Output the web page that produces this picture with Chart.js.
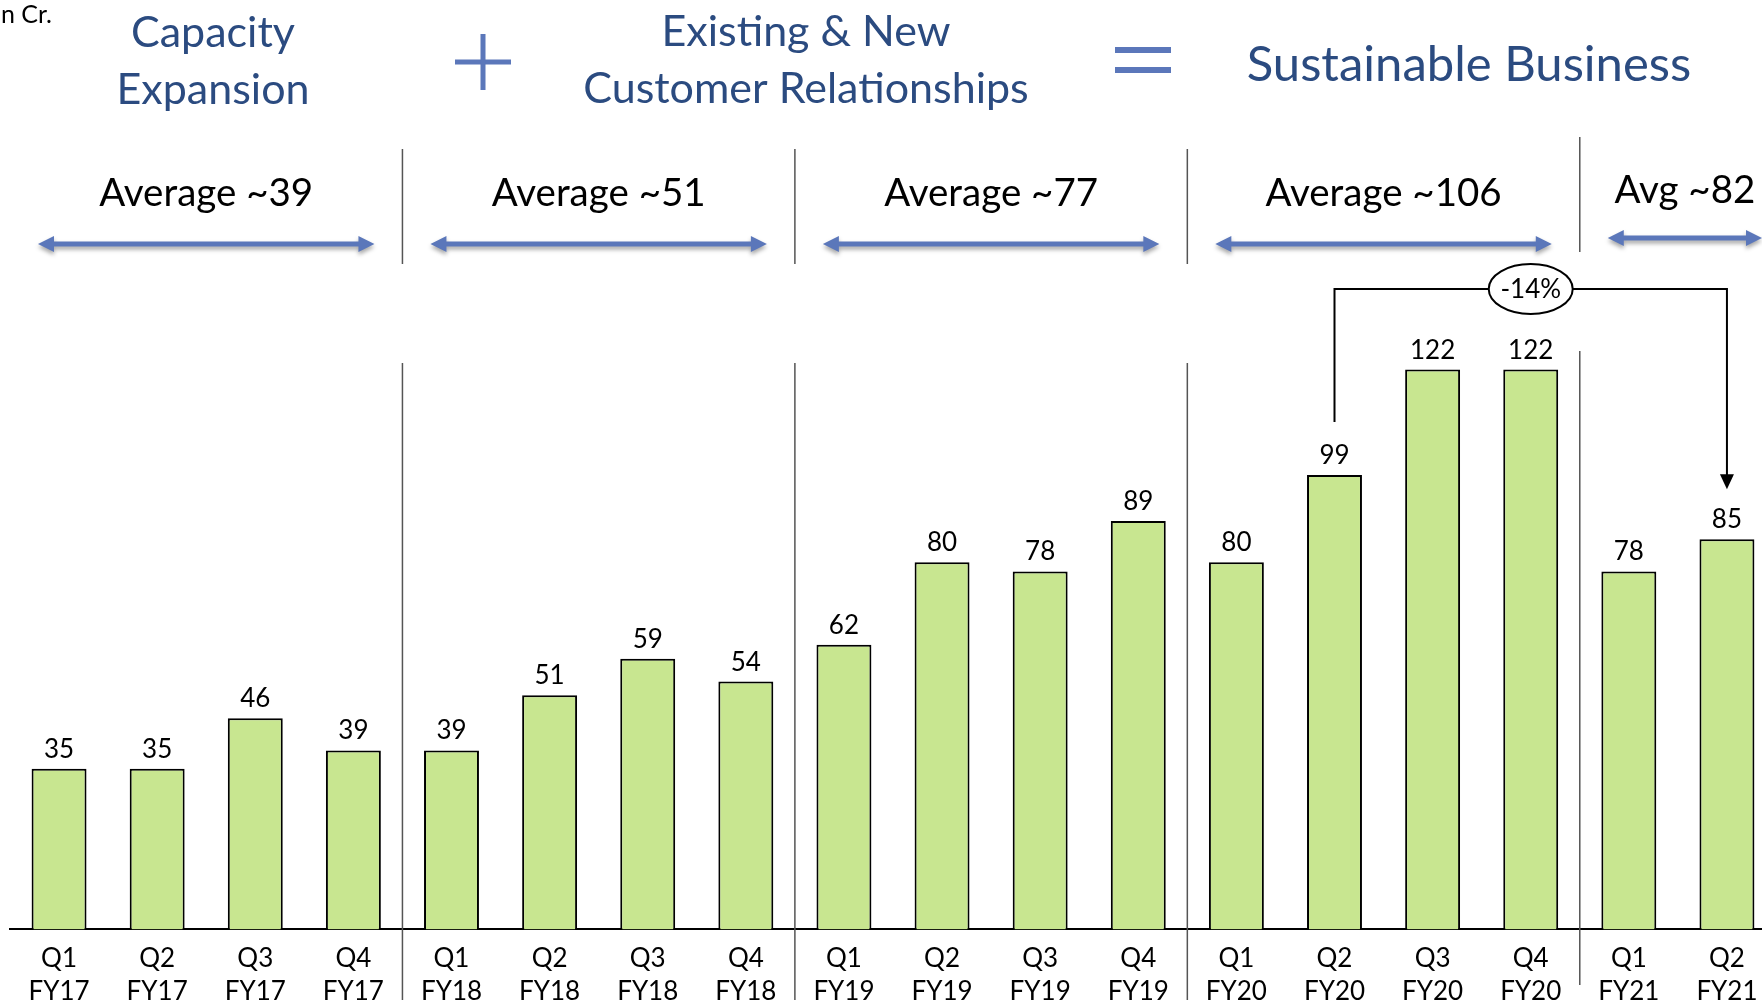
<!doctype html>
<html lang="en">
<head>
<meta charset="UTF-8" />
<title>Quarterly Revenue</title>
<style>
  html, body { margin: 0; padding: 0; overflow: hidden; background: #fff; }
  #chart { display: block; }
</style>
</head>
<body>
<canvas id="chart" width="1790" height="1022"></canvas>
<script src="https://cdn.jsdelivr.net/npm/chart.js"></script>
<script>
const quarters = ["Q1", "Q2", "Q3", "Q4", "Q1", "Q2", "Q3", "Q4", "Q1", "Q2", "Q3", "Q4", "Q1", "Q2", "Q3", "Q4", "Q1", "Q2"];
const years = ["FY17", "FY17", "FY17", "FY17", "FY18", "FY18", "FY18", "FY18", "FY19", "FY19", "FY19", "FY19", "FY20", "FY20", "FY20", "FY20", "FY21", "FY21"];
const revenue = [35, 35, 46, 39, 39, 51, 59, 54, 62, 80, 78, 89, 80, 99, 122, 122, 78, 85];

// periods: first and last bar index of each, with the average text
const periodLabels = ["Average ~39", "Average ~51", "Average ~77", "Average ~106", "Avg ~82"];
const periodStarts = [0, 4, 8, 12, 16];
const periodEnds = [3, 7, 11, 15, 17];

// -14% change from Q2 FY20 to Q2 FY21
const changeFrom = 13;
const changeTo = 17;
const changeText = "-14%";

const unitText = "Rs. in Cr.";
const FONT = "Lato, 'Open Sans', sans-serif";
const titleBlue = "#2B4B80";
const arrowBlue = "#5B77BA";

function doubleArrow(ctx, x1, x2, yy) {
    const head = 16, half = 8, shaft = 2.6;
    ctx.beginPath();
    ctx.moveTo(x1, yy);
    ctx.lineTo(x1 + head, yy - half);
    ctx.lineTo(x1 + head, yy - shaft);
    ctx.lineTo(x2 - head, yy - shaft);
    ctx.lineTo(x2 - head, yy - half);
    ctx.lineTo(x2, yy);
    ctx.lineTo(x2 - head, yy + half);
    ctx.lineTo(x2 - head, yy + shaft);
    ctx.lineTo(x1 + head, yy + shaft);
    ctx.lineTo(x1 + head, yy + half);
    ctx.closePath();
    ctx.fill();
}

const overlay = {
    id: "overlay",
    afterDatasetsDraw(chart) {
        const { ctx, chartArea, scales: { x, y } } = chart;
        const meta = chart.getDatasetMeta(0);
        ctx.save();

        // value labels above bars
        ctx.font = "26px " + FONT;
        ctx.fillStyle = "#000";
        ctx.textAlign = "center";
        ctx.textBaseline = "alphabetic";
        meta.data.forEach((bar, i) => ctx.fillText(String(revenue[i]), bar.x, bar.y - 11));

        // unit
        ctx.font = "25px " + FONT;
        ctx.textAlign = "right";
        ctx.fillText(unitText, 52, 23);

        // headline
        ctx.fillStyle = titleBlue;
        ctx.textAlign = "center";
        ctx.font = "43px " + FONT;
        ctx.fillText("Capacity", 213, 47);
        ctx.fillText("Expansion", 213, 104);
        ctx.fillText("Existing & New", 806, 46);
        ctx.fillText("Customer Relationships", 806, 103);
        ctx.font = "49px " + FONT;
        ctx.fillText("Sustainable Business", 1469, 81);

        ctx.fillStyle = arrowBlue;
        // plus
        ctx.fillRect(455, 59.5, 56, 5);
        ctx.fillRect(480.5, 34, 5, 56);
        // equals
        ctx.fillRect(1115, 47, 56, 6);
        ctx.fillRect(1115, 67, 56, 6);

        // periods
        const n = revenue.length;
        periodLabels.forEach((label, i) => {
            const s = periodStarts[i], e = periodEnds[i];
            const left = s === 0 ? chartArea.left : (x.getPixelForValue(s - 1) + x.getPixelForValue(s)) / 2;
            const right = e === n - 1 ? chart.width : (x.getPixelForValue(e) + x.getPixelForValue(e + 1)) / 2;
            const last = i === periodLabels.length - 1;
            const lift = last ? 12 : 0;
            const mid = (left + right) / 2;

            ctx.fillStyle = "#000";
            ctx.font = "38.5px " + FONT;
            ctx.fillText(label, mid, 206 - lift / 4);

            ctx.save();
            ctx.fillStyle = arrowBlue;
            ctx.shadowColor = "rgba(0,0,0,0.35)";
            ctx.shadowBlur = 4;
            ctx.shadowOffsetY = 3;
            doubleArrow(ctx, left + 28, right - 28, 244 - lift / 2);
            ctx.restore();

            if (s > 0) {
                ctx.strokeStyle = "#555";
                ctx.lineWidth = 1.5;
                ctx.beginPath();
                ctx.moveTo(left, 149 - lift);
                ctx.lineTo(left, 264 - lift);
                ctx.moveTo(left, 363 - lift);
                ctx.lineTo(left, last ? 985 : 1000);
                ctx.stroke();
            }
        });

        // change annotation
        const xa = x.getPixelForValue(changeFrom);
        const xb = x.getPixelForValue(changeTo);
        const xm = x.getPixelForValue(changeFrom + 2);
        const ya = y.getPixelForValue(revenue[changeFrom]) - 53;
        const yb = y.getPixelForValue(revenue[changeTo]) - 50;
        const yTop = 289;
        ctx.strokeStyle = "#000";
        ctx.lineWidth = 2;
        ctx.beginPath();
        ctx.moveTo(xa, ya);
        ctx.lineTo(xa, yTop);
        ctx.lineTo(xb, yTop);
        ctx.lineTo(xb, yb - 14);
        ctx.stroke();
        ctx.fillStyle = "#000";
        ctx.beginPath();
        ctx.moveTo(xb - 7, yb - 15);
        ctx.lineTo(xb + 7, yb - 15);
        ctx.lineTo(xb, yb);
        ctx.closePath();
        ctx.fill();

        ctx.beginPath();
        ctx.ellipse(xm, yTop, 42, 25, 0, 0, Math.PI * 2);
        ctx.fillStyle = "#fff";
        ctx.fill();
        ctx.stroke();
        ctx.fillStyle = "#000";
        ctx.font = "26px " + FONT;
        ctx.textBaseline = "middle";
        ctx.fillText(changeText, xm, yTop + 1);

        ctx.restore();
    }
};

const chart = new Chart(document.getElementById("chart"), {
    type: "bar",
    data: {
        labels: quarters.map((q, i) => [q, years[i]]),
        datasets: [{
            data: revenue,
            backgroundColor: "#C8E690",
            borderColor: "#000",
            borderWidth: 2,
            barPercentage: 0.56,
            categoryPercentage: 1
        }]
    },
    options: {
        responsive: false,
        animation: false,
        devicePixelRatio: 1,
        layout: { padding: { left: 10, right: 14, top: 241, bottom: 1 } },
        plugins: { legend: { display: false }, tooltip: { enabled: false } },
        scales: {
            x: {
                grid: { display: false, drawTicks: false },
                border: { display: true, color: "#000", width: 2 },
                ticks: {
                    color: "#000",
                    padding: 12,
                    maxRotation: 0,
                    autoSkip: false,
                    font: { family: FONT, size: 26, lineHeight: 1.3 }
                }
            },
            y: { display: false, min: 0, max: 150 }
        }
    },
    plugins: [overlay]
});
</script>
</body>
</html>
